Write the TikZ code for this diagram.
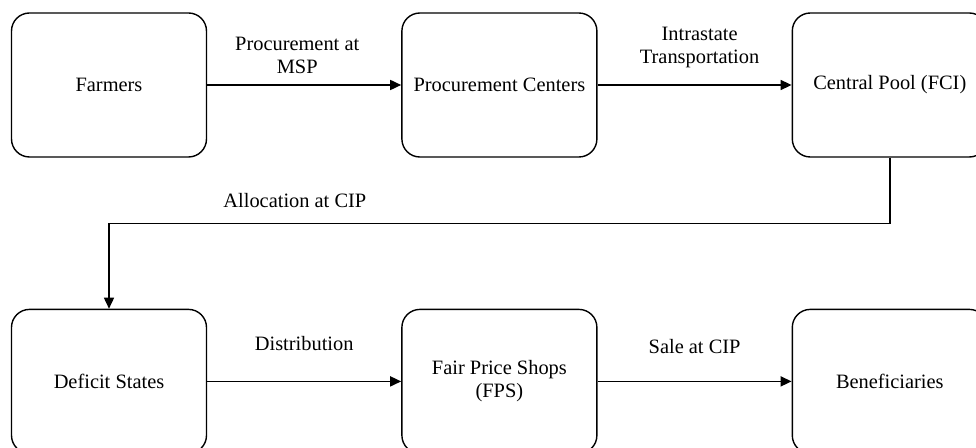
\documentclass[tikz,border=0pt]{standalone}
\usepackage{fontspec}
\setmainfont{Liberation Serif}
\usetikzlibrary{arrows.meta,calc,positioning}
\tikzset{
    >={Triangle[length=5.5pt,width=5pt]},
    stage/.style={
           rectangle,
           rounded corners=9pt,
           draw=black, line width=0.7pt,
           minimum width=97.5pt,
           minimum height=72pt,
           inner sep=0pt,
           align=center},
    flow/.style={
           ->,
           line width=0.8pt},
    tag/.style={
           inner sep=0pt,
           align=center}
}

\begin{document}
\begin{tikzpicture}[node distance=97pt and 75.5pt,
                    font=\fontsize{10.2pt}{11.5pt}\selectfont]
        \useasboundingbox (0,0) rectangle (488pt,-224pt);

        \node[stage] (farmers) at (54.5pt,-42.5pt) {Farmers};
        \node[stage, right=97pt of farmers] (proc) {Procurement Centers};
        \node[stage, right=97pt of proc] (fci) {Central Pool (FCI)};
        \node[stage, below=75.5pt of farmers] (deficit) {Deficit States};
        \node[stage, right=97pt of deficit] (fps) {Fair Price Shops\\(FPS)};
        \node[stage, right=97pt of fps] (benef) {Beneficiaries};

        \coordinate (bend) at ($(fci.south)+(0,-33pt)$);

        \draw[flow] (farmers) -- node[tag, above=5pt, xshift=-3.5pt] {Procurement at\\MSP} (proc);
        \draw[flow] (proc) -- node[tag, above=8.3pt, xshift=2.5pt] {Intrastate\\Transportation} (fci);
        \draw[flow] (fci.south) -- (bend) -| node[tag, pos=0.381, above=7.5pt] {Allocation at CIP} (deficit.north);
        \draw[flow] (deficit) -- node[tag, above=15pt] {Distribution} (fps);
        \draw[flow] (fps) -- node[tag, above=13.5pt] {Sale at CIP} (benef);

    \end{tikzpicture}
\end{document}
